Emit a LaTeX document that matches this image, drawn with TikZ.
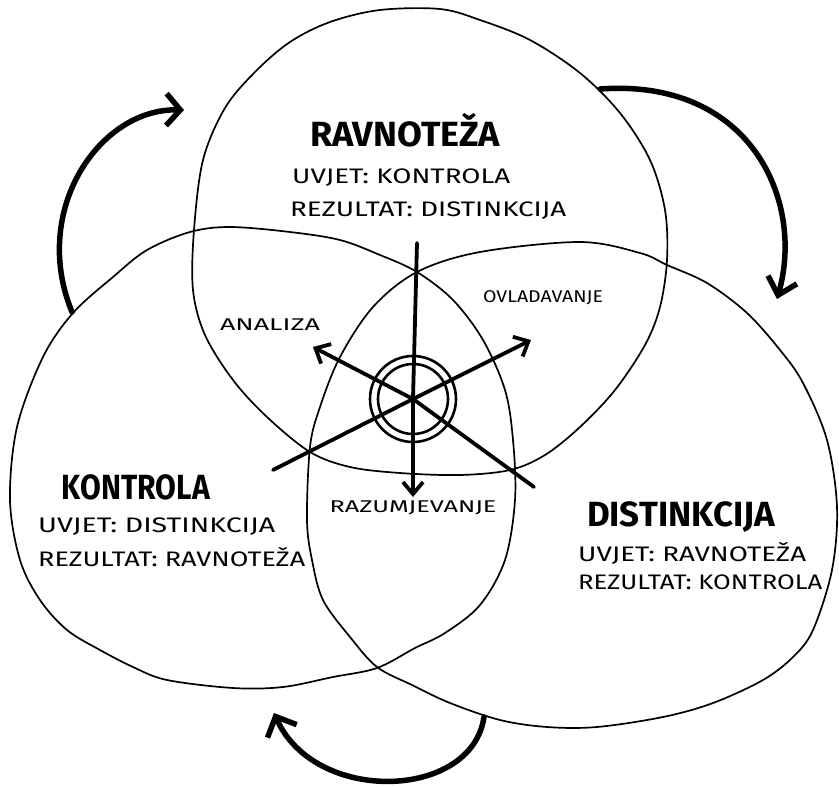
\documentclass[tikz,border=0pt]{standalone}
\usepackage{fontspec}
\usepackage{graphicx}
\setmainfont{Fira Sans}
\usetikzlibrary{arrows.meta}
\newcommand\fw[2]{\resizebox{#1}{\height}{#2}}
\begin{document}
\begin{tikzpicture}[x=1pt,y=-1pt,
  venn/.style={line width=1.7pt, line join=round},
  bigarrow/.style={line width=5.5pt, line cap=round, line join=round},
  midarrow/.style={line width=3.8pt, line cap=round, line join=round},
  title/.style={inner sep=0pt, font=\fontsize{35}{40}\selectfont\bfseries},
  body/.style={inner sep=0pt, anchor=west, font=\fontsize{21}{24}\selectfont},
  small/.style={inner sep=0pt, font=\fontsize{17}{20}\selectfont}]
\useasboundingbox (0,0) rectangle (839,787);
\fill[white] (0,0) rectangle (839,787);

% circles
\draw[venn] plot[smooth cycle, tension=0.55] coordinates {
 (440,9) (480,20) (530,40) (580,73) (620,113) (650,160) (665,210) (667,260)
 (660,307) (645,345) (615,390) (580,427) (545,455) (510,470) (460,475) (400,473)
 (350,467) (310,452) (267,417) (233,380) (205,335) (193,290) (194,230) (203,160)
 (225,108) (255,72) (290,42) (330,22) (380,10)};
\draw[venn] plot[smooth cycle, tension=0.55] coordinates {
 (230,227) (290,232) (340,240) (380,255) (417,272) (453,300) (483,340) (505,390)
 (513,440) (515,500) (505,560) (480,605) (445,633) (415,648) (377,668) (333,677)
 (283,687) (233,688) (167,680) (133,667) (100,650) (67,630) (40,600) (20,560)
 (10,500) (17,427) (43,357) (73,313) (113,277) (147,250) (190,232)};
\draw[venn] plot[smooth cycle, tension=0.55] coordinates {
 (417,272) (480,252) (580,242) (640,253) (667,265) (707,283) (747,313) (780,350)
 (803,383) (827,440) (837,507) (832,570) (813,630) (793,657) (763,680) (713,703)
 (663,717) (597,727) (547,727) (500,720) (450,703) (412,685) (377,667) (350,637)
 (323,600) (312,560) (307,520) (310,447) (320,407) (340,357) (373,307)};

% centre
\coordinate (C) at (413,399);
\draw[line width=2.6pt] (C) circle[radius=43];
\draw[line width=2.6pt] (C) circle[radius=35];

\coordinate (vS) at (417,243);
\coordinate (vE) at (413,497);
\coordinate (aS) at (534,487);
\coordinate (aE) at (313,347);
\coordinate (oS) at (273,470);
\coordinate (oE) at (531,340);
\draw[midarrow, -{Straight Barb[length=12pt,width=20pt]}] (vS) -- (C) -- (vE);
\draw[midarrow, -{Straight Barb[length=12pt,width=22pt]}] (aS) -- (C) -- (aE);
\draw[midarrow, -{Straight Barb[length=12pt,width=22pt]}] (oS) -- (C) -- (oE);

% outer cycle arrows
\coordinate (a1s) at (72,312);
\coordinate (a1e) at (184,110);
\draw[bigarrow, -{Straight Barb[length=14pt,width=32pt]}]
  (a1s) .. controls (30,210) and (100,108) .. (a1e);
\coordinate (a2s) at (600,89);
\coordinate (a2e) at (777,299);
\draw[bigarrow, -{Straight Barb[length=16pt,width=30pt]}]
  (a2s) .. controls (750,78) and (805,200) .. (a2e);
\coordinate (a3s) at (484,717);
\coordinate (a3e) at (274,713);
\draw[bigarrow, -{Straight Barb[length=16pt,width=32pt]}]
  (a3s) .. controls (472,800) and (315,805) .. (a3e);

% texts
\node[title] (tR) at (405,130) {\fw{190pt}{RAVNOTEŽA}};
\node[body] (tR1) at (292,178) {\fw{218pt}{UVJET: KONTROLA}};
\node[body] (tR2) at (290,211) {\fw{276pt}{REZULTAT: DISTINKCIJA}};

\node[title] (tK) at (136,487) {\fw{148pt}{KONTROLA}};
\node[body] (tK1) at (38,527) {\fw{237pt}{UVJET: DISTINKCIJA}};
\node[body] (tK2) at (38,557) {\fw{267pt}{REZULTAT: RAVNOTEŽA}};

\node[title] (tD) at (681,517) {\fw{188pt}{DISTINKCIJA}};
\node[body] (tD1) at (578,553) {\fw{228pt}{UVJET: RAVNOTEŽA}};
\node[body] (tD2) at (578,582) {\fw{244pt}{REZULTAT: KONTROLA}};

\node[small] (lA) at (270,325) {\fw{100pt}{ANALIZA}};
\node[small] (lO) at (543,298) {\fw{120pt}{OVLADAVANJE}};
\node[small] (lR) at (413,508) {\fw{167pt}{RAZUMJEVANJE}};
\end{tikzpicture}
\end{document}
